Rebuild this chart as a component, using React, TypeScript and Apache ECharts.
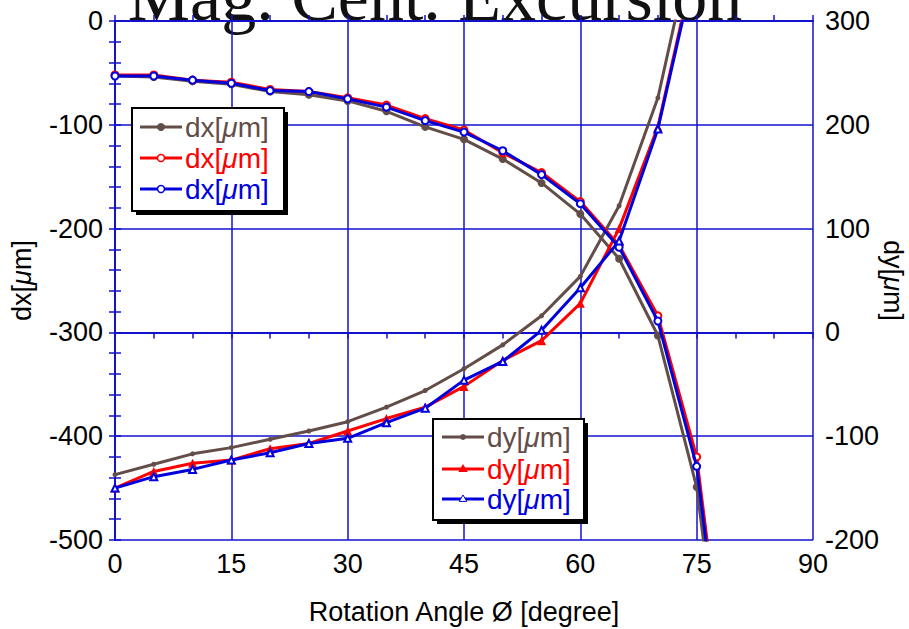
import React, { useEffect, useRef } from "react";
import * as echarts from "echarts";

const angles = [0, 5, 10, 15, 20, 25, 30, 35, 40, 45, 50, 55, 60, 65, 70, 75, 80];

const dxBrown = [-53, -54, -58, -61, -68, -71, -77, -87, -102, -114, -133, -156, -186, -229, -303, -449, -740];
const dxRed = [-52, -52, -57, -59, -66, -68, -74, -81, -94, -105, -127, -146, -174, -216, -284, -420, -720];
const dxBlue = [-53, -53, -57, -60, -67, -68, -75, -83, -96, -107, -125, -148, -176, -218, -289, -429, -730];

const dyBrown = [-137, -127, -117, -111, -103, -95, -86, -72, -56, -35, -12, 16, 54, 122, 226, 394];
const dyRed = [-150, -134, -126, -123, -112, -107, -95, -83, -72, -52, -27, -8, 28, 100, 198, 365];
const dyBlue = [-150, -139, -132, -123, -116, -107, -102, -87, -73, -46, -28, 2, 43, 88, 196, 360];

const xTicks = [0, 15, 30, 45, 60, 75, 90];
const dxTicks = [0, -100, -200, -300, -400, -500];
const dyTicks = [300, 200, 100, 0, -100, -200];

const TITLE = "Mag. Cent. Excursion";
const X_NAME = "Rotation Angle Ø [degree]";
const UNIT_LABEL = (v: string) => `${v}[{i|μ}m]`;

const BROWN = "#634d48";
const RED = "#ff0000";
const BLUE = "#0000dd";
const AXIS_BLUE = "#1212cc";
const FONT = "Liberation Sans, Arial, Helvetica, sans-serif";
const FS = 27;
const LFS = 28;

const pair = (ys: number[]) => ys.map((y, i) => [angles[i], y]);

export default function App() {
  const ref = useRef<HTMLDivElement>(null);
  useEffect(() => {
    if (!ref.current) return;
    const chart = echarts.init(ref.current, null, { renderer: "svg" });

    const axisLine = { show: true, lineStyle: { color: AXIS_BLUE, width: 2 } };
    const axisTick = { show: true, inside: true, length: 6, lineStyle: { color: AXIS_BLUE, width: 1.5 } };
    const splitLine = { show: true, lineStyle: { color: AXIS_BLUE, width: 1.5 } };
    const rich = { i: { fontStyle: "italic", fontSize: FS, fontFamily: FONT, color: "#000" } };
    const labelStyle = { color: "#000", fontSize: FS, fontFamily: FONT };

    const legendItem = (
      x0: number,
      y: number,
      color: string,
      label: string,
      marker: any
    ) => [
      { type: "line", z: 101, shape: { x1: x0, y1: y, x2: x0 + 42, y2: y }, style: { stroke: color, lineWidth: 3 } },
      { ...marker, z: 102 },
      {
        type: "text",
        z: 102,
        x: x0 + 45,
        y: y,
        style: {
          text: UNIT_LABEL(label),
          fill: color,
          fontSize: LFS,
          fontFamily: FONT,
          verticalAlign: "middle",
          align: "left",
          rich: { i: { fontStyle: "italic", fill: color, fontSize: LFS, fontFamily: FONT } },
        },
      },
    ];

    const tri = (cx: number, cy: number, r: number) => [
      [cx, cy - r],
      [cx + r * 0.95, cy + r * 0.6],
      [cx - r * 0.95, cy + r * 0.6],
    ];

    const box = (x: number, y: number, w: number, h: number) => [
      { type: "rect", z: 99, shape: { x: x + 4, y: y + 4, width: w, height: h }, style: { fill: "#000" } },
      { type: "rect", z: 100, shape: { x, y, width: w, height: h }, style: { fill: "#fff", stroke: "#000", lineWidth: 2 } },
    ];

    const graphic: any[] = [
      {
        type: "text",
        x: 435,
        y: -4,
        style: {
          text: TITLE,
          fontSize: 70,
          fontFamily: "Liberation Serif, Times New Roman, serif",
          fill: "#111",
          align: "center",
          verticalAlign: "middle",
        },
      },
      ...box(132, 108, 152, 103),
      ...legendItem(140, 127, BROWN, "dx", { type: "circle", shape: { cx: 161, cy: 127, r: 4 }, style: { fill: BROWN } }),
      ...legendItem(140, 158, RED, "dx", { type: "circle", shape: { cx: 161, cy: 158, r: 3.5 }, style: { fill: "#fff", stroke: RED, lineWidth: 1.5 } }),
      ...legendItem(140, 189, BLUE, "dx", { type: "circle", shape: { cx: 161, cy: 189, r: 3.5 }, style: { fill: "#fff", stroke: BLUE, lineWidth: 1.5 } }),
      ...box(433, 419, 151, 101),
      ...legendItem(442, 437, BROWN, "dy", { type: "circle", shape: { cx: 463, cy: 437, r: 3 }, style: { fill: BROWN } }),
      ...legendItem(442, 469, RED, "dy", { type: "polygon", shape: { points: tri(463, 469, 5) }, style: { fill: RED } }),
      ...legendItem(442, 499, BLUE, "dy", { type: "polygon", shape: { points: tri(463, 499, 4) }, style: { fill: "#fff", stroke: BLUE, lineWidth: 1 } }),
    ];

    chart.setOption({
      animation: false,
      backgroundColor: "#fff",
      grid: { left: 115, right: 96, top: 21, bottom: 89, containLabel: false, outerBoundsMode: "none" },
      xAxis: [
        {
          type: "value",
          position: "bottom",
          min: xTicks[0],
          max: xTicks[xTicks.length - 1],
          interval: 15,
          axisLine,
          axisTick,
          minorTick: { show: true, splitNumber: 3, length: 6, lineStyle: { color: AXIS_BLUE, width: 1.5 } },
          splitLine,
          axisLabel: { ...labelStyle, margin: 10 },
          name: X_NAME,
          nameLocation: "middle",
          nameGap: 58,
          nameTextStyle: labelStyle,
        },
        {
          type: "value",
          position: "top",
          min: xTicks[0],
          max: xTicks[xTicks.length - 1],
          interval: 15,
          axisLine,
          axisTick,
          minorTick: { show: true, splitNumber: 3, length: 6, lineStyle: { color: AXIS_BLUE, width: 1.5 } },
          splitLine: { show: false },
          axisLabel: { show: false },
        },
      ],
      yAxis: [
        {
          type: "value",
          position: "left",
          min: dxTicks[dxTicks.length - 1],
          max: dxTicks[0],
          interval: 100,
          axisLine,
          axisTick,
          minorTick: { show: true, splitNumber: 5, length: 6, lineStyle: { color: AXIS_BLUE, width: 1.5 } },
          splitLine,
          axisLabel: { ...labelStyle, margin: 12 },
          name: UNIT_LABEL("dx"),
          nameLocation: "middle",
          nameRotate: 90,
          nameGap: 80,
          nameTextStyle: { ...labelStyle, rich },
        },
        {
          type: "value",
          position: "right",
          min: dyTicks[dyTicks.length - 1],
          max: dyTicks[0],
          interval: 100,
          axisLine,
          axisTick,
          minorTick: { show: true, splitNumber: 5, length: 6, lineStyle: { color: AXIS_BLUE, width: 1.5 } },
          splitLine: { show: false },
          axisLabel: { ...labelStyle, margin: 12 },
          name: UNIT_LABEL("dy"),
          nameLocation: "middle",
          nameRotate: -90,
          nameGap: 66,
          nameMoveOverlap: false,
          nameTextStyle: { ...labelStyle, rich },
        },
      ],
      series: [
        { type: "line", name: "dx brown", yAxisIndex: 0, data: pair(dxBrown), symbol: "circle", symbolSize: 8, lineStyle: { color: BROWN, width: 3 }, itemStyle: { color: BROWN }, z: 3 },
        { type: "line", name: "dx red", yAxisIndex: 0, data: pair(dxRed), symbol: "emptyCircle", symbolSize: 7, lineStyle: { color: RED, width: 3 }, itemStyle: { color: RED, borderColor: RED, borderWidth: 1.5 }, z: 4 },
        { type: "line", name: "dx blue", yAxisIndex: 0, data: pair(dxBlue), symbol: "emptyCircle", symbolSize: 7, lineStyle: { color: BLUE, width: 3 }, itemStyle: { color: BLUE, borderColor: BLUE, borderWidth: 1.5 }, z: 5 },
        { type: "line", name: "dy brown", yAxisIndex: 1, data: pair(dyBrown), symbol: "circle", symbolSize: 5, lineStyle: { color: BROWN, width: 3 }, itemStyle: { color: BROWN }, z: 3 },
        { type: "line", name: "dy red", yAxisIndex: 1, data: pair(dyRed), symbol: "triangle", symbolSize: 9, lineStyle: { color: RED, width: 3 }, itemStyle: { color: RED }, z: 4 },
        { type: "line", name: "dy blue", yAxisIndex: 1, data: pair(dyBlue), symbol: "emptyTriangle", symbolSize: 7, lineStyle: { color: BLUE, width: 3 }, itemStyle: { color: BLUE, borderColor: BLUE, borderWidth: 1 }, z: 5 },
      ],
      graphic,
    });
    return () => chart.dispose();
  }, []);
  return <div ref={ref} style={{ width: 909, height: 629, position: "absolute", left: 0, top: 0 }} />;
}
